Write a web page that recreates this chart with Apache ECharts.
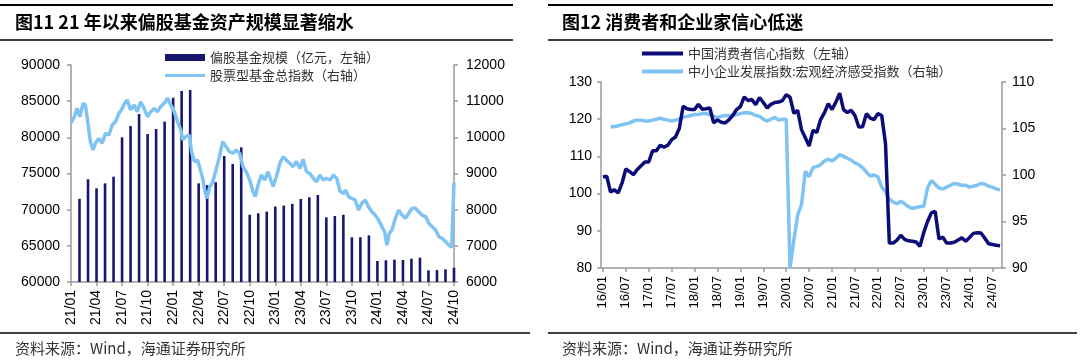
<!DOCTYPE html>
<html><head><meta charset="utf-8">
<script src="https://cdn.jsdelivr.net/npm/echarts@6/dist/echarts.min.js"></script>
<style>html,body{margin:0;padding:0;background:#fff}#c{width:1080px;height:362px}</style>
</head><body><div id="c"></div>
<script>
// ---- Left chart: equity fund scale (bars, monthly) & stock fund index (line) ----
const fundXLabels = ['21/01','21/04','21/07','21/10','22/01','22/04','22/07','22/10','23/01','23/04','23/07','23/10','24/01','24/04','24/07','24/10'];
// month-end scale, first bar at month index 1 (end of 21/01)
const fundScale = [71500,74200,72950,73640,74560,80000,81570,83230,80460,81150,82170,85480,86400,86540,73640,73400,73800,77420,76310,78620,69300,69500,69740,70430,70570,70800,71480,71710,72030,68940,69120,69300,66180,66180,66450,62900,63000,63090,63040,63220,63360,61610,61660,61750,61980];
// index line: position in months since 21/01, and value
const indexPos = [0,0.39,0.71,1.03,1.42,1.69,1.97,2.28,2.60,2.87,3.27,3.66,4.05,4.45,4.84,5.23,5.63,6.02,6.30,6.61,7.00,7.41,7.79,8.18,8.59,8.98,9.37,9.77,10.16,10.55,10.95,11.34,11.73,12.13,12.52,12.91,13.11,13.50,13.90,14.17,14.49,14.88,15.20,15.47,15.74,15.98,16.26,16.65,17.04,17.44,17.83,18.22,18.63,19.02,19.40,19.81,20.20,20.59,20.99,21.38,21.65,21.97,22.36,22.76,23.15,23.74,24.13,24.53,24.92,25.31,25.71,26.10,26.49,26.89,27.28,27.67,28.07,28.46,28.85,29.25,29.64,30.03,30.44,30.83,31.22,31.62,32.01,32.28,32.60,32.99,33.39,33.78,34.17,34.57,34.96,35.35,35.75,36.14,36.53,36.85,37.12,37.40,37.71,38.11,38.50,38.89,39.29,39.68,40.07,40.47,40.86,41.25,41.66,42.05,42.44,42.84,43.23,43.62,44.02,44.41,44.73,44.88,45.0];
const indexVal = [10390,10570,10800,10570,10940,10890,10430,9880,9650,9835,9970,9835,10110,10065,10340,10430,10660,10800,10940,11030,10760,10890,10710,10985,10800,10570,10710,10800,10710,10850,10940,11080,10890,10710,10430,10200,9930,10020,10065,9600,9330,9370,9100,8870,8500,8310,8590,8770,9100,9465,9880,9740,9600,9560,9650,9560,9190,9050,8820,8500,8360,8680,8960,8820,9050,8640,8910,9280,9465,9370,9280,9190,9330,9140,9390,9050,9000,8870,8770,8960,8820,8870,8820,8960,8870,8500,8450,8540,8360,8310,8270,7990,8180,8270,8080,7940,7850,7710,7530,7390,7020,7350,7440,7760,7990,7850,7760,7900,8040,8040,7940,7850,7810,7620,7530,7440,7250,7210,7115,7020,6960,6920,8750];

// ---- Right chart: consumer confidence & SME macro sentiment (monthly 16/01..24/09) ----
const confMonths = [];
for (let y = 16; y <= 24; y++) for (let m = 1; m <= 12; m++) { if (y === 24 && m > 9) break; confMonths.push(y + '/' + String(m).padStart(2, '0')); }
const consumerConf = [104.5,104.7,100.4,101.0,100.2,102.8,106.6,105.9,105.1,106.5,107.5,108.5,
108.5,111.5,111.5,113.0,112.5,113.0,114.5,115.2,117.5,123.5,122.8,122.6,
122.6,124.0,122.7,122.8,123.0,119.0,119.8,119.2,119.0,119.8,121.0,122.6,
123.4,126.0,125.0,125.3,123.9,125.8,124.5,123.0,124.0,124.5,124.6,125.0,
126.6,125.9,121.6,122.4,117.2,115.0,112.8,117.0,116.4,119.9,121.7,124.2,
122.6,124.6,127.0,122.6,121.8,122.4,121.0,117.9,118.0,121.5,120.3,119.9,
121.5,121.0,113.4,86.7,86.7,87.5,88.8,87.7,87.3,87.2,87.0,85.8,
89.5,92.5,94.8,95.2,87.8,88.3,86.7,86.7,86.9,87.5,88.1,87.2,
88.2,89.3,89.5,89.4,88.0,86.5,86.3,86.1,86.0];
const smeMacro = [null,null,105.2,105.2,105.3,105.4,105.5,105.6,105.8,105.9,105.9,105.8,
105.8,105.9,106.0,106.1,106.0,105.9,105.8,105.9,106.0,106.2,106.3,106.4,
106.5,106.5,106.6,106.6,106.5,106.3,106.2,106.3,106.4,106.4,106.4,106.5,
106.6,106.7,106.7,106.6,106.4,106.3,106.0,105.8,106.0,106.2,105.9,106.0,
106.0,90.0,93.0,95.7,96.8,100.4,99.8,100.8,100.9,101.1,101.5,101.7,
101.5,101.8,102.2,102.0,101.8,101.6,101.3,101.1,100.8,100.3,99.9,100.0,
99.8,98.7,98.2,97.4,97.1,96.9,97.2,96.9,96.6,96.4,96.5,96.6,
96.6,98.6,99.4,99.0,98.6,98.5,98.7,98.9,99.1,99.0,98.9,98.9,
98.7,98.8,98.9,99.1,99.0,98.8,98.7,98.5,98.4];

const NAVY = '#16166e', DARK = '#0c0c78', LIGHT = '#7ec3f2';
const LAT = '"Liberation Sans", Arial, sans-serif';
const CJK = '"Noto Sans CJK SC", sans-serif';
const axisLine = {show: true, lineStyle: {color: '#9a9a9a', width: 1.5}};
const axisTick = {show: true, length: 4, lineStyle: {color: '#9a9a9a', width: 1.5}};
const plain = v => String(v);

const chart = echarts.init(document.getElementById('c'), null, {renderer: 'canvas'});
const legendBase = {orient: 'vertical', padding: 0, selectedMode: false, icon: 'rect',
  textStyle: {fontSize: 13, color: '#333', fontFamily: CJK}};

chart.setOption({
  backgroundColor: '#fff',
  animation: false,
  grid: [
    {left: 71, top: 65, width: 383, height: 217},
    {left: 601, top: 82, width: 401, height: 186}
  ],
  legend: [
    Object.assign({}, legendBase, {data: ['偏股基金规模（亿元，左轴）'], left: 165, top: 51, itemWidth: 40, itemHeight: 7}),
    Object.assign({}, legendBase, {data: ['股票型基金总指数（右轴）'], left: 165, top: 69, itemWidth: 40, itemHeight: 3}),
    Object.assign({}, legendBase, {data: ['中国消费者信心指数（左轴）'], left: 642, top: 47, itemWidth: 41, itemHeight: 4}),
    Object.assign({}, legendBase, {data: ['中小企业发展指数:宏观经济感受指数（右轴）'], left: 642, top: 65, itemWidth: 41, itemHeight: 4})
  ],
  xAxis: [
    {type: 'value', gridIndex: 0, min: 0, max: 45, interval: 3, axisLine, axisTick, splitLine: {show: false},
      axisLabel: {rotate: 90, margin: 8, fontSize: 14, color: '#000', fontFamily: LAT,
        formatter: v => fundXLabels[Math.round(v / 3)] || ''}},
    {type: 'category', gridIndex: 1, data: confMonths, boundaryGap: true, axisLine,
      axisTick: Object.assign({}, axisTick, {alignWithLabel: true, interval: 5}),
      axisLabel: {interval: 5, rotate: 90, margin: 8, fontSize: 13, color: '#000', fontFamily: LAT}}
  ],
  yAxis: [
    {type: 'value', gridIndex: 0, position: 'left', min: 60000, max: 90000, interval: 5000, axisLine, axisTick,
      splitLine: {show: false}, axisLabel: {margin: 11, fontSize: 14, color: '#000', fontFamily: LAT, formatter: plain}},
    {type: 'value', gridIndex: 0, position: 'right', min: 6000, max: 12000, interval: 1000, axisLine, axisTick,
      splitLine: {show: false}, axisLabel: {margin: 12, fontSize: 14, color: '#000', fontFamily: LAT, formatter: plain}},
    {type: 'value', gridIndex: 1, position: 'left', min: 80, max: 130, interval: 10, axisLine, axisTick,
      splitLine: {show: false}, axisLabel: {margin: 9, fontSize: 14, color: '#000', fontFamily: LAT, formatter: plain}},
    {type: 'value', gridIndex: 1, position: 'right', min: 90, max: 110, interval: 5, axisLine, axisTick,
      splitLine: {show: false}, axisLabel: {margin: 10, fontSize: 14, color: '#000', fontFamily: LAT, formatter: plain}}
  ],
  series: [
    {name: '偏股基金规模（亿元，左轴）', type: 'bar', xAxisIndex: 0, yAxisIndex: 0, barWidth: 2.6,
      itemStyle: {color: NAVY}, data: fundScale.map((v, i) => [i + 1, v])},
    {name: '股票型基金总指数（右轴）', type: 'line', xAxisIndex: 0, yAxisIndex: 1, showSymbol: false, symbol: 'none',
      lineStyle: {color: LIGHT, width: 3.5}, itemStyle: {color: LIGHT},
      data: indexPos.map((p, i) => [p, indexVal[i]])},
    {name: '中小企业发展指数:宏观经济感受指数（右轴）', type: 'line', xAxisIndex: 1, yAxisIndex: 3, showSymbol: false, symbol: 'none',
      lineStyle: {color: LIGHT, width: 3.5}, itemStyle: {color: LIGHT}, data: smeMacro},
    {name: '中国消费者信心指数（左轴）', type: 'line', xAxisIndex: 1, yAxisIndex: 2, showSymbol: false, symbol: 'none',
      lineStyle: {color: DARK, width: 3.5}, itemStyle: {color: DARK}, data: consumerConf}
  ],
  graphic: [
    {type: 'line', shape: {x1: 0, y1: 5, x2: 513, y2: 5}, style: {stroke: '#000', lineWidth: 2}},
    {type: 'line', shape: {x1: 0, y1: 40, x2: 513, y2: 40}, style: {stroke: '#000', lineWidth: 1.5}},
    {type: 'line', shape: {x1: 0, y1: 333, x2: 530, y2: 333}, style: {stroke: '#000', lineWidth: 1.5}},
    {type: 'line', shape: {x1: 548, y1: 5, x2: 1053, y2: 5}, style: {stroke: '#000', lineWidth: 2}},
    {type: 'line', shape: {x1: 548, y1: 40, x2: 1053, y2: 40}, style: {stroke: '#000', lineWidth: 1.5}},
    {type: 'line', shape: {x1: 548, y1: 333, x2: 1077, y2: 333}, style: {stroke: '#000', lineWidth: 1.5}},
    {type: 'text', x: 15, y: 22, style: {text: '图11 21 年以来偏股基金资产规模显著缩水', font: 'bold 18px ' + CJK, fill: '#000', verticalAlign: 'middle'}},
    {type: 'text', x: 562, y: 22, style: {text: '图12 消费者和企业家信心低迷', font: 'bold 18px ' + CJK, fill: '#000', verticalAlign: 'middle'}},
    {type: 'text', x: 15, y: 348, style: {text: '资料来源：Wind，海通证券研究所', font: '15px ' + CJK, fill: '#333', verticalAlign: 'middle'}},
    {type: 'text', x: 562, y: 348, style: {text: '资料来源：Wind，海通证券研究所', font: '15px ' + CJK, fill: '#333', verticalAlign: 'middle'}}
  ]
});
</script>
</body></html>
